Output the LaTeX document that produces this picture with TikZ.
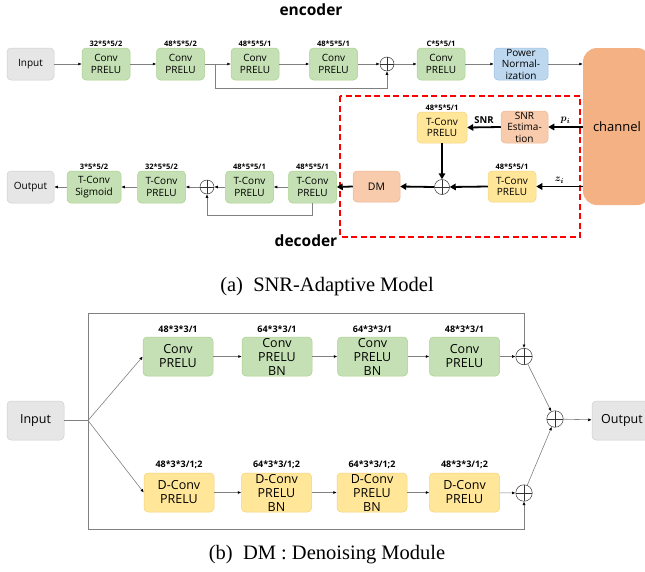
\documentclass[tikz,border=0pt]{standalone}
\usepackage{amsmath}
\usepackage{amssymb}
\usepackage{fontspec}
\setmainfont{Liberation Serif}
\setsansfont{Open Sans}
\usepackage{tikz}
\usetikzlibrary{arrows.meta}
\usetikzlibrary{positioning}
\usepackage{xcolor}
\definecolor{convgreen}{HTML}{C5E0B4}
\definecolor{convgreenline}{HTML}{A9D18E}
\definecolor{tconvyellow}{HTML}{FFE699}
\definecolor{tconvyellowline}{HTML}{F4D27A}
\definecolor{dmsalmon}{HTML}{F8CBAD}
\definecolor{dmsalmonline}{HTML}{EDB592}
\definecolor{pnblue}{HTML}{BDD7EE}
\definecolor{pnblueline}{HTML}{9DC3E6}
\definecolor{iogray}{HTML}{E7E6E6}
\definecolor{iograyline}{HTML}{D0CECE}
\definecolor{chorange}{HTML}{F4B183}

\begin{document}
\begin{tikzpicture}
		[x=1pt,y=-1pt,
		font=\sffamily,
		blk/.style={rounded corners=4pt,align=center,inner sep=0pt,line width=0.5pt,
			minimum width=48pt,minimum height=32pt,font=\sffamily\fontsize{10}{11.5}\selectfont},
		bigblk/.style={blk,minimum width=70pt,minimum height=39pt,
			font=\sffamily\fontsize{12.5}{14}\selectfont},
		green/.style={fill=convgreen,draw=convgreenline},
		yellow/.style={fill=tconvyellow,draw=tconvyellowline},
		salmon/.style={fill=dmsalmon,draw=dmsalmonline},
		io/.style={fill=iogray,draw=iograyline},
		lbl/.style={label={[font=\sffamily\bfseries\fontsize{7.5}{8}\selectfont,inner sep=1pt]above:#1}},
		biglbl/.style={label={[font=\sffamily\bfseries\fontsize{9}{9}\selectfont,inner sep=1pt,label distance=3pt]above:#1}},
		oplus/.style={circle,draw=black!80,line width=0.5pt,minimum size=#1,inner sep=0pt,
			path picture={\draw[black!80,line width=0.5pt]
				(path picture bounding box.north) -- (path picture bounding box.south)
				(path picture bounding box.west) -- (path picture bounding box.east);}},
		arr/.style={draw=black!50,line width=0.6pt,-{Latex[length=3.5pt,width=3pt,color=black]}},
		tarr/.style={draw=black,line width=1.8pt,-{Triangle[length=6pt,width=6.5pt]}},
		captext/.style={font=\rmfamily\fontsize{20.5}{22}\selectfont}]
		\useasboundingbox (0,0) rectangle (645,571);
		% encoder
		\node[font=\sffamily\bfseries\fontsize{15.5}{17}\selectfont] (enc) at (311,10) {encoder};
		\node[blk,io,minimum width=47pt] (in) at (30.5,64) {Input};
		\node[blk,green,lbl=32*5*5/2] (e1) at (106,64) {Conv\\PRELU};
		\node[blk,green,lbl=48*5*5/2] (e2) at (180.5,64) {Conv\\PRELU};
		\node[blk,green,lbl=48*5*5/1] (e3) at (255,64) {Conv\\PRELU};
		\node[blk,green,lbl=48*5*5/1] (e4) at (333.5,64) {Conv\\PRELU};
		\node[oplus=14pt] (a1) at (387,64) {};
		\node[blk,green,lbl=C*5*5/1] (e5) at (441,64) {Conv\\PRELU};
		\node[blk,fill=pnblue,draw=pnblueline,minimum width=54pt] (pn) at (521,64) {Power\\Normal-\\ization};
		\node[rounded corners=14pt,fill=chorange,minimum width=68pt,minimum height=157pt,
			font=\sffamily\fontsize{13}{14}\selectfont] (ch) at (617,126.5) {channel};
		\coordinate (s1) at (215,64);
		\draw[arr] (in) -- (e1);
		\draw[arr] (e1) -- (e2);
		\draw[arr] (e2) -- (e3);
		\draw[arr] (e3) -- (e4);
		\draw[arr] (e4) -- (a1);
		\draw[arr] (a1) -- (e5);
		\draw[arr] (e5) -- (pn);
		\draw[arr] (pn) -- (pn -| ch.west);
		\draw[arr] (s1) -- ++(0,24) -| (a1.south);
		% snr branch
		\draw[red,line width=1.3pt,dash pattern=on 6pt off 3.5pt] (340,96) rectangle (580,237);
		\node[blk,yellow,minimum width=50pt,minimum height=31pt,lbl=48*5*5/1] (t1) at (442,127.5) {T-Conv\\PRELU};
		\node[blk,salmon,minimum width=47pt] (se) at (524.5,127) {SNR\\Estima-\\tion};
		\node[blk,yellow,minimum height=31pt,lbl=48*5*5/1] (t2) at (512,186.5) {T-Conv\\PRELU};
		\node[oplus=15pt] (a3) at (442,187) {};
		\node[blk,salmon,minimum width=47pt,minimum height=31pt,font=\sffamily\fontsize{10.5}{11}\selectfont] (dm) at (376.5,186.5) {DM};
		\draw[tarr] (ch.west |- se.east) -- node[above=-1pt]{$\boldsymbol{p_i}$} (se.east);
		\draw[tarr] (se.west) -- node[above=-1pt,font=\sffamily\bfseries\fontsize{9.5}{10}\selectfont]{SNR} (t1.east);
		\draw[tarr] (t1.south) -- (a3.north);
		\draw[tarr] (ch.west |- t2.east) -- node[above=-1pt]{$\boldsymbol{z_i}$} (t2.east);
		\draw[tarr] (t2.west) -- (a3.east);
		\draw[tarr] (a3.west) -- (dm.east);
		% decoder
		\node[blk,green,lbl=48*5*5/1] (d1) at (312.5,187) {T-Conv\\PRELU};
		\node[blk,green,lbl=48*5*5/1] (d2) at (249.5,187) {T-Conv\\PRELU};
		\node[oplus=14pt] (a2) at (207,187) {};
		\node[blk,green,lbl=32*5*5/2] (d3) at (161.5,187) {T-Conv\\PRELU};
		\node[blk,green,minimum width=54pt,lbl=3*5*5/2] (d4) at (94,187) {T-Conv\\Sigmoid};
		\node[blk,io,minimum width=47pt] (out) at (30.5,187) {Output};
		\draw[tarr] (dm.west) -- (d1.east);
		\draw[arr] (d1) -- (d2);
		\draw[arr] (d2) -- (a2);
		\draw[arr] (a2) -- (d3);
		\draw[arr] (d3) -- (d4);
		\draw[arr] (d4) -- (out);
		\draw[arr] (d1.south) -- ++(0,12) -| (a2.south);
		\node[font=\sffamily\bfseries\fontsize{15.5}{17}\selectfont] (dec) at (306,241) {decoder};
		\node[captext] (capa) at (327,287) {(a)\enspace SNR-Adaptive Model};
		% denoising module
		\node[bigblk,io,minimum width=57pt] (bin) at (35.5,420.5) {Input};
		\coordinate (j) at (88,420.5);
		\node[bigblk,green,biglbl=48*3*3/1] (c1) at (178,356.5) {Conv\\PRELU};
		\node[bigblk,green,biglbl=64*3*3/1] (c2) at (277,356.5) {Conv\\PRELU\\BN};
		\node[bigblk,green,biglbl=64*3*3/1] (c3) at (372.5,356.5) {Conv\\PRELU\\BN};
		\node[bigblk,green,biglbl=48*3*3/1] (c4) at (464.5,356.5) {Conv\\PRELU};
		\node[oplus=16.5pt] (o1) at (524,356.5) {};
		\node[bigblk,yellow,biglbl=48*3*3/1;2] (g1) at (179,492.5) {D-Conv\\PRELU};
		\node[bigblk,yellow,biglbl=64*3*3/1;2] (g2) at (276.5,492.5) {D-Conv\\PRELU\\BN};
		\node[bigblk,yellow,biglbl=64*3*3/1;2] (g3) at (372,492.5) {D-Conv\\PRELU\\BN};
		\node[bigblk,yellow,biglbl=48*3*3/1;2] (g4) at (464.5,492.5) {D-Conv\\PRELU};
		\node[oplus=16.5pt] (o2) at (524,493) {};
		\node[oplus=16.5pt] (o3) at (555,419) {};
		\node[bigblk,io,minimum width=60pt] (bout) at (622,420.5) {Output};
		\draw[arr,-] (bin) -- (j);
		\draw[arr] (j) -- (c1.west);
		\draw[arr] (j) -- (g1.west);
		\draw[arr] (j) -- ++(0,-107.5) -| (o1.north);
		\draw[arr] (j) -- ++(0,108.5) -| (o2.south);
		\draw[arr] (c1) -- (c2);
		\draw[arr] (c2) -- (c3);
		\draw[arr] (c3) -- (c4);
		\draw[arr] (c4) -- (o1);
		\draw[arr] (g1) -- (g2);
		\draw[arr] (g2) -- (g3);
		\draw[arr] (g3) -- (g4);
		\draw[arr] (g4) -- (o2);
		\draw[arr] (o1) -- (o3);
		\draw[arr] (o2) -- (o3);
		\draw[arr] (o3) -- (bout);
		\node[captext] (capb) at (327,555) {(b)\enspace DM : Denoising Module};
\end{tikzpicture}
\end{document}
